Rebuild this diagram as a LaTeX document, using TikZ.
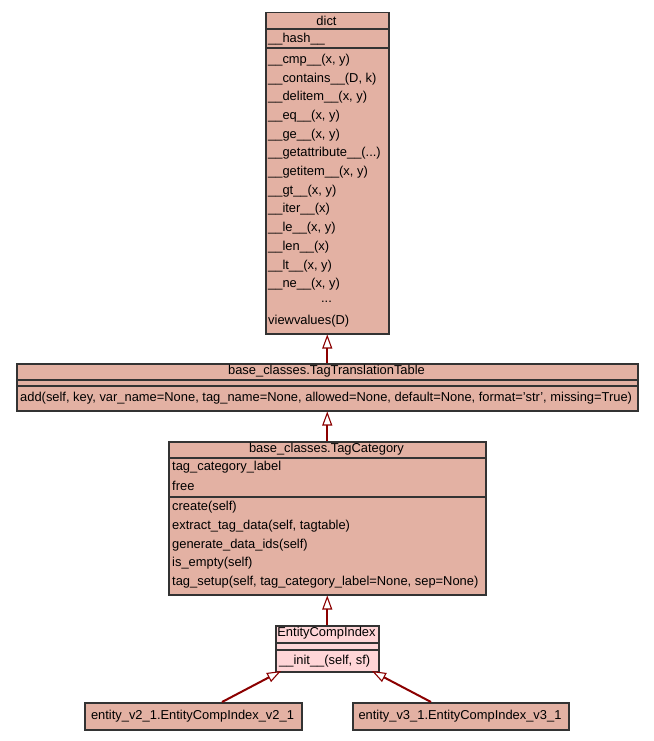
\documentclass[tikz,border=0pt]{standalone}
\usepackage{fontspec}
\setmainfont{Liberation Sans}
\usetikzlibrary{arrows.meta}
\definecolor{boxfill}{HTML}{E3B1A3}
\definecolor{lightfill}{HTML}{FFD5D7}
\definecolor{edgecol}{HTML}{8B0000}
\definecolor{bordercol}{HTML}{333333}
\begin{document}
\begin{tikzpicture}[x=1pt,y=-1pt,
  cls/.style={draw=bordercol, line width=1.5pt, fill=boxfill, rectangle, inner sep=0pt, anchor=north west},
  lightcls/.style={cls, fill=lightfill},
  sep/.style={draw=bordercol, line width=1.5pt},
  txt/.style={inner sep=0pt, anchor=west, font=\fontsize{12.9}{14}\selectfont, text=black},
  ttl/.style={txt, anchor=center},
  inh/.style={draw=edgecol, line width=2pt, -{Triangle[open, fill=white, length=14pt, width=10pt, line width=1.1pt]}}
]
\useasboundingbox (0,0) rectangle (653,741);
% dict
\node[cls, minimum width=123pt, minimum height=321pt] (dict) at (265,12) {};
\draw[sep] (265,29) -- (388,29);
\draw[sep] (265,48) -- (388,48);
\node[ttl] (dictT) at (326.5,20.5) {dict};
\node[txt] (d0) at (268,39) {\_\_hash\_\_};
\node[txt] (d1) at (268,60) {\_\_cmp\_\_(x, y)};
\node[txt] (d2) at (268,78.7) {\_\_contains\_\_(D, k)};
\node[txt] (d3) at (268,97.4) {\_\_delitem\_\_(x, y)};
\node[txt] (d4) at (268,116.1) {\_\_eq\_\_(x, y)};
\node[txt] (d5) at (268,134.8) {\_\_ge\_\_(x, y)};
\node[txt] (d6) at (268,153.5) {\_\_getattribute\_\_(...)};
\node[txt] (d7) at (268,172.2) {\_\_getitem\_\_(x, y)};
\node[txt] (d8) at (268,190.9) {\_\_gt\_\_(x, y)};
\node[txt] (d9) at (268,209.6) {\_\_iter\_\_(x)};
\node[txt] (d10) at (268,228.3) {\_\_le\_\_(x, y)};
\node[txt] (d11) at (268,247) {\_\_len\_\_(x)};
\node[txt] (d12) at (268,265.7) {\_\_lt\_\_(x, y)};
\node[txt] (d13) at (268,284.4) {\_\_ne\_\_(x, y)};
\node[ttl] (d14) at (326.5,302) {...};
\node[txt] (d15) at (268,321.5) {viewvalues(D)};
% TagTranslationTable
\node[cls, minimum width=621pt, minimum height=47pt] (ttt) at (16,363) {};
\draw[sep] (16,380) -- (637,380);
\draw[sep] (16,386) -- (637,386);
\node[ttl] (tttT) at (326.5,371.5) {base\_classes.TagTranslationTable};
\node[txt] (t1) at (20,398.5) {add(self, key, var\_name=None, tag\_name=None, allowed=None, default=None, format='str', missing=True)};
% TagCategory
\node[cls, minimum width=317pt, minimum height=153pt] (tc) at (168,441) {};
\draw[sep] (168,458) -- (485,458);
\draw[sep] (168,497) -- (485,497);
\node[ttl] (tcT) at (326.5,449.5) {base\_classes.TagCategory};
\node[txt] (c1) at (172,467.5) {tag\_category\_label};
\node[txt] (c2) at (172,486.2) {free};
\node[txt] (c3) at (172,507.5) {create(self)};
\node[txt] (c4) at (172,526.2) {extract\_tag\_data(self, tagtable)};
\node[txt] (c5) at (172,544.9) {generate\_data\_ids(self)};
\node[txt] (c6) at (172,563.6) {is\_empty(self)};
\node[txt] (c7) at (172,582.3) {tag\_setup(self, tag\_category\_label=None, sep=None)};
% EntityCompIndex
\node[lightcls, minimum width=103pt, minimum height=46pt] (eci) at (275,625) {};
\draw[sep] (275,643) -- (378,643);
\draw[sep] (275,650) -- (378,650);
\node[ttl] (eciT) at (326.5,633.5) {EntityCompIndex};
\node[txt] (e1) at (279,661) {\_\_init\_\_(self, sf)};
% subclasses
\node[cls, minimum width=217pt, minimum height=27pt] (v2) at (84,702) {};
\node[ttl] (v2T) at (192.5,716) {entity\_v2\_1.EntityCompIndex\_v2\_1};
\node[cls, minimum width=216pt, minimum height=27pt] (v3) at (352,702) {};
\node[ttl] (v3T) at (460,716) {entity\_v3\_1.EntityCompIndex\_v3\_1};
% inheritance
\draw[inh] (ttt.north) -- (dict.south);
\draw[inh] (tc.north) -- (ttt.south);
\draw[inh] (eci.north) -- (tc.south);
\coordinate (v2top) at (222,702);
\coordinate (v3top) at (431,702);
\coordinate (eciL) at (281,671);
\coordinate (eciR) at (372,671);
\draw[inh] (v2top) -- (eciL);
\draw[inh] (v3top) -- (eciR);
\end{tikzpicture}
\end{document}
